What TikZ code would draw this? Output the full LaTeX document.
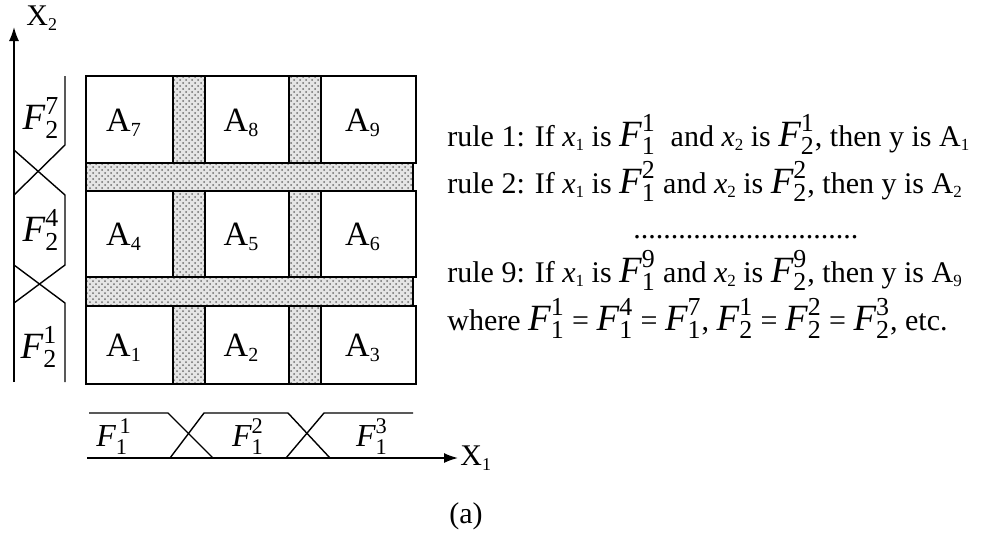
\documentclass[tikz,border=0pt]{standalone}
\usepackage{fontspec}
\setmainfont{Liberation Serif}
\usepackage{amsmath}
\usetikzlibrary{arrows.meta, patterns, positioning}
\definecolor{stipple}{HTML}{6E6E6E}
\newcommand{\Fsize}{\fontsize{18.5}{18.5}\selectfont}
\newcommand{\mfF}[2]{\textit{F}_{\textup{#1}}^{\textup{#2}}}
\newcommand{\lowsub}[2]{\raisebox{-0.32ex}{\fontsize{#1}{#1}\selectfont #2}}
\newcommand{\xs}[1]{\textit{x}\lowsub{8.5}{#1}}
\newcommand{\As}[1]{A\lowsub{8.5}{#1}}
\newcommand{\Acell}[1]{A\lowsub{10}{#1}}
\tikzset{
  stripe/.style={
    draw, line width=0.8pt, preaction={fill=gray!20},
    pattern=crosshatch dots, pattern color=stipple
  },
  cell/.style={draw, line width=0.8pt},
  mf/.style={line width=0.7pt},
  axis/.style={-{Latex[length=7pt,width=5pt]}, line width=0.8pt},
  alabel/.style={font=\fontsize{17}{17}\selectfont, inner sep=1pt},
  xlabel/.style={font=\fontsize{15}{15}\selectfont, inner sep=1pt},
  flabel/.style={font=\Fsize, inner sep=1pt},
  rule/.style={font=\fontsize{15}{17}\selectfont, anchor=base west, inner sep=0pt},
}

\begin{document}
\begin{tikzpicture}[x=0.5pt, y=-0.5pt]
    \useasboundingbox (0,0) rectangle (999,542);

    % shaded bands
    \draw[stripe] (86,163) rectangle (413,191);
    \draw[stripe] (86,277) rectangle (413,306);
    \foreach \xa/\xb in {173/205, 289/321}
      \foreach \ya/\yb in {76/163, 191/277, 306/384}
        \draw[stripe] (\xa,\ya) rectangle (\xb,\yb);

    % rule cells
    \foreach \xa/\xb [count=\i] in {86/173, 205/289, 321/416} {
      \foreach \ya/\yb/\r in {306/384/0, 191/277/3, 76/163/6} {
        \pgfmathtruncatemacro{\k}{\i+\r}
        \draw[cell] (\xa,\ya) rectangle (\xb,\yb);
        \node[alabel] (a\k) at ({(\xa+\xb)/2-6},{(\ya+\yb)/2+3}) {\Acell{\k}};
      }
    }

    % axes
    \coordinate (o2) at (14,382);
    \coordinate (t2) at (14,27);
    \draw[axis] (o2) -- (t2);
    \node[xlabel, anchor=west] (x2) at (24,18) {X\lowsub{9}{2}};
    \coordinate (o1) at (87,458);
    \coordinate (t1) at (458,458);
    \draw[axis] (o1) -- (t1);
    \node[xlabel, anchor=west] (x1) at (t1) {X\lowsub{9}{1}};

    % membership functions on x2
    \draw[mf] (65,76) -- (65,145) -- (14,195);
    \draw[mf] (14,150) -- (65,195) -- (65,265) -- (14,303);
    \draw[mf] (14,265) -- (65,303) -- (65,382);
    \node[flabel] (f27) at (41,118) {$\mfF27$};
    \node[flabel] (f24) at (41,230) {$\mfF24$};
    \node[flabel] (f21) at (39,347) {$\mfF21$};

    % membership functions on x1
    \draw[mf] (89,413) -- (168,413) -- (213,458);
    \draw[mf] (170,458) -- (204,413) -- (288,413) -- (330,458);
    \draw[mf] (286,458) -- (324,413) -- (413,413);
    \node[flabel, font=\fontsize{16}{16}\selectfont] (f11) at (114,437) {$\mfF1{\,1}$};
    \node[flabel, font=\fontsize{16}{16}\selectfont] (f12) at (248,437) {$\mfF12$};
    \node[flabel, font=\fontsize{16}{16}\selectfont] (f13) at (372,437) {$\mfF13$};

    % rule base
    \node[rule] (r1) at (447,146) {rule 1: If \xs1 is {\Fsize$\mfF11$}\ \ and \xs2 is {\Fsize$\mfF21$}, then y is \As1};
    \node[rule] (r2) at (447,193) {rule 2: If \xs1 is {\Fsize$\mfF12$} and \xs2 is {\Fsize$\mfF22$}, then y is \As2};
    \node[rule] (rd) at (633,238) {..............................};
    \node[rule] (r9) at (447,282) {rule 9: If \xs1 is {\Fsize$\mfF19$} and \xs2 is {\Fsize$\mfF29$}, then y is \As9};
    \node[rule] (rw) at (447,330) {where {\Fsize$\mfF11$} = {\Fsize$\mfF14$} = {\Fsize$\mfF17$},
      {\Fsize$\mfF21$} = {\Fsize$\mfF22$} = {\Fsize$\mfF23$}, etc.};

    \node[xlabel] (cap) at (466,516) {(a)};
\end{tikzpicture}
\end{document}
